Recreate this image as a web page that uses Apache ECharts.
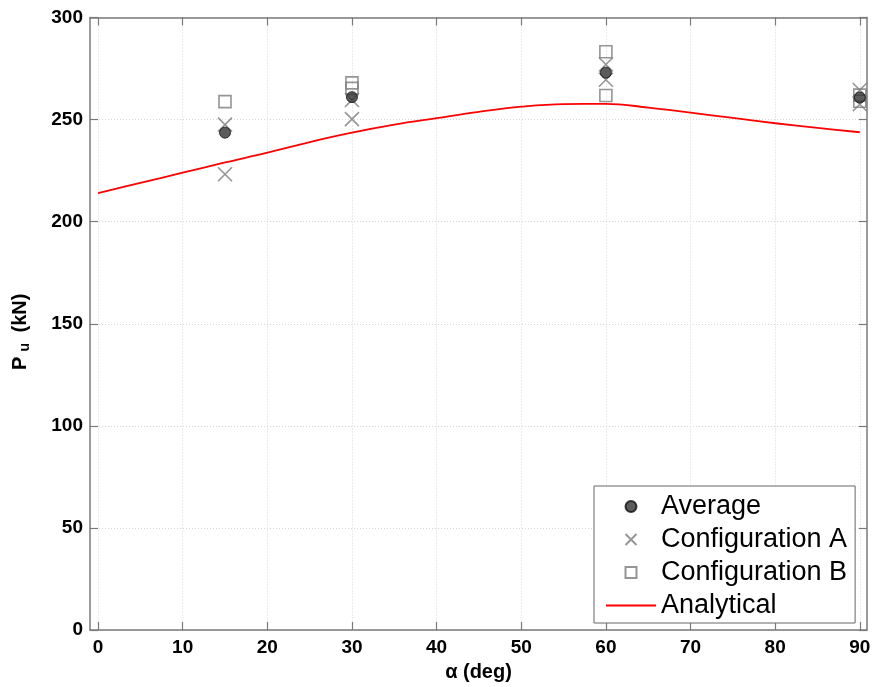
<!DOCTYPE html>
<html>
<head>
<meta charset="utf-8">
<script src="https://cdn.jsdelivr.net/npm/echarts@6/dist/echarts.min.js"></script>
<style>
  html, body { margin: 0; padding: 0; background: #fff; }
  #chart { width: 875px; height: 687px; }
</style>
</head>
<body>
<div id="chart"></div>
<script>
// x ticks (deg)
const xTicks = [0, 10, 20, 30, 40, 50, 60, 70, 80, 90];

// test results [alpha, Pu]
const averageData = [[15, 243.6], [30, 261], [60, 273], [90, 260.8]];
const configA = [[15, 247.5], [15, 223.2], [30, 259.6], [30, 250.2], [60, 277], [60, 269.5], [90, 264.5], [90, 257.5]];
const configB = [[15, 258.8], [30, 268], [30, 265.3], [60, 283.2], [60, 261.8], [90, 262], [90, 259]];

// analytical curve
const analyticalX = [0, 5, 10, 15, 20, 25, 30, 35, 40, 45, 50, 55, 60, 65, 70, 75, 80, 85, 90];
const analyticalY = [214, 219, 224, 229, 233.8, 239, 243.6, 247.5, 250.7, 253.8, 256.3, 257.6, 257.7, 255.9, 253.4, 250.8, 248.2, 245.9, 243.8];

const grey = '#7a7a7a';
const font = 'Liberation Sans, Arial, sans-serif';
const crossPath = 'path://M0,0L10,10M10,0L0,10';
const squarePath = 'path://M0,0L10,0L10,10L0,10Z';

const chart = echarts.init(document.getElementById('chart'));

const axisLine = { show: true, onZero: false, lineStyle: { color: grey, width: 1.5 } };
const tickStyle = { inside: true, length: 8, lineStyle: { color: grey, width: 1.2 } };
const gridLine = { show: true, lineStyle: { color: '#d6d6d6', type: [1, 2], width: 1 } };
const labelFont = { color: '#000', fontWeight: 'bold', fontSize: 19, fontFamily: font };

const option = {
  animation: false,
  grid: { left: 90, right: 8, top: 17.5, bottom: 56.5, containLabel: false },
  xAxis: [
    {
      type: 'value', min: -0.95, max: 90.85, position: 'bottom',
      axisLine: axisLine,
      axisTick: Object.assign({ customValues: xTicks }, tickStyle),
      axisLabel: Object.assign({ customValues: xTicks, margin: 8 }, labelFont),
      splitLine: gridLine,
      name: 'α (deg)', nameLocation: 'middle', nameGap: 32,
      nameTextStyle: { color: '#000', fontWeight: 'bold', fontSize: 20, fontFamily: font }
    },
    {
      type: 'value', min: -0.95, max: 90.85, position: 'top',
      axisLine: axisLine,
      axisTick: Object.assign({ customValues: xTicks }, tickStyle),
      axisLabel: { show: false },
      splitLine: { show: false }
    }
  ],
  yAxis: [
    {
      type: 'value', min: 0, max: 300, interval: 50, position: 'left',
      axisLine: axisLine,
      axisTick: tickStyle,
      axisLabel: Object.assign({ margin: 7 }, labelFont),
      splitLine: gridLine,
      name: '{b|P}{s|u}{e| (kN)}', nameLocation: 'middle', nameGap: 58, nameRotate: 90,
      nameTextStyle: {
        rich: {
          b: { color: '#000', fontWeight: 'bold', fontSize: 20, fontFamily: font },
          s: { color: '#000', fontWeight: 'bold', fontSize: 14, fontFamily: font, verticalAlign: 'bottom', padding: [10, 5, 0, 5] },
          e: { color: '#000', fontWeight: 'bold', fontSize: 20, fontFamily: font, padding: [0, 16, 0, 0] }
        }
      }
    },
    {
      type: 'value', min: 0, max: 300, interval: 50, position: 'right',
      axisLine: axisLine,
      axisTick: tickStyle,
      axisLabel: { show: false },
      splitLine: { show: false }
    }
  ],
  legend: {
    orient: 'vertical',
    left: 594, top: 486,
    padding: [7, 8, 4, 11],
    itemWidth: 50, itemHeight: 11, itemGap: 6,
    backgroundColor: '#fff',
    borderColor: '#666', borderWidth: 1, borderRadius: 0,
    textStyle: { color: '#000', fontSize: 27, lineHeight: 27, fontFamily: font },
    data: [
      { name: 'Average', itemStyle: { color: '#333', borderColor: '#111' } },
      { name: 'Configuration A' },
      { name: 'Configuration B', icon: squarePath },
      { name: 'Analytical', itemStyle: { opacity: 0 } }
    ]
  },
  series: [
    {
      name: 'Analytical', type: 'line', smooth: 0.4, symbol: 'none', showSymbol: false, z: 1,
      lineStyle: { color: '#ff0000', width: 1.8 },
      itemStyle: { color: '#ff0000' },
      data: analyticalX.map((x, i) => [x, analyticalY[i]])
    },
    {
      name: 'Configuration B', type: 'scatter', symbol: 'rect', symbolSize: 12, z: 3,
      itemStyle: { color: 'rgba(255,255,255,0)', borderColor: grey, borderWidth: 1.6 },
      data: configB
    },
    {
      name: 'Configuration A', type: 'scatter', symbol: crossPath, symbolSize: 14, z: 3,
      itemStyle: { color: 'rgba(255,255,255,0)', borderColor: grey, borderWidth: 1.6 },
      data: configA
    },
    {
      name: 'Average', type: 'scatter', symbol: 'circle', symbolSize: 11, z: 4,
      itemStyle: { color: '#333', borderColor: '#111', borderWidth: 1 },
      data: averageData
    }
  ]
};

chart.setOption(option);
</script>
</body>
</html>
